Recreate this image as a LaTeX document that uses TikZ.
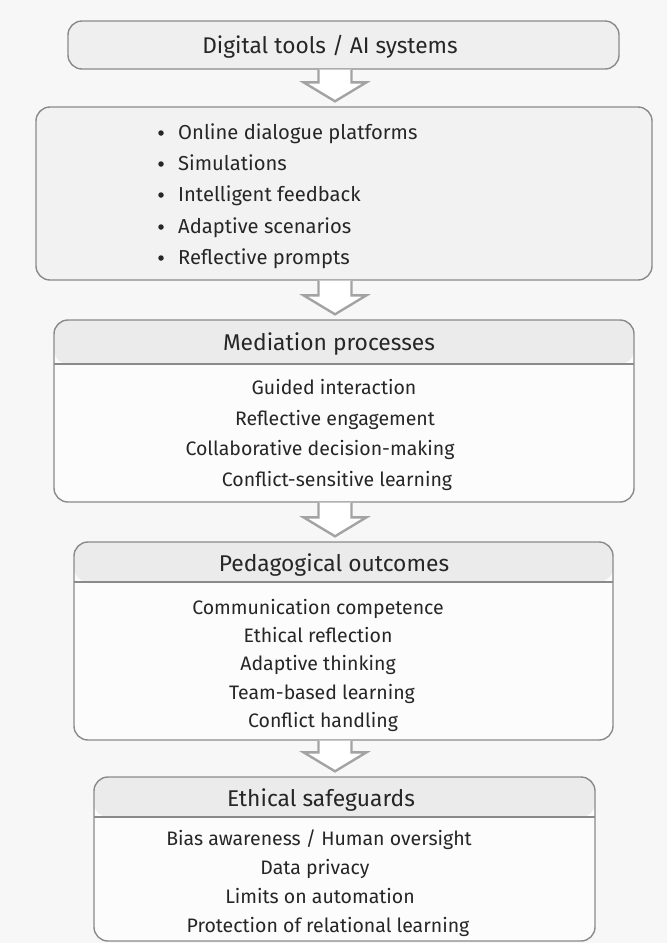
\documentclass[tikz,border=0pt]{standalone}
\usepackage{fontspec}
\setmainfont{Fira Sans}
\usetikzlibrary{calc}
\definecolor{bgc}{HTML}{F7F7F7}
\definecolor{bodyc}{HTML}{FCFCFC}
\definecolor{headc}{HTML}{EBEBEB}
\definecolor{topc}{HTML}{EFEFEF}
\definecolor{listc}{HTML}{F2F2F2}
\definecolor{linec}{HTML}{8A8A8A}
\definecolor{arrc}{HTML}{A3A3A3}
\definecolor{txtc}{HTML}{262626}
\tikzset{
  boxbase/.style={draw=linec, line width=1.4pt, rounded corners=14pt, inner sep=0pt},
  plainbox/.style={boxbase, fill=#1},
  headbox/.style={boxbase, fill=bodyc,
    path picture={
      \fill[headc] (path picture bounding box.north west) rectangle ([yshift=-#1]path picture bounding box.north east);
      \draw[linec, line width=1.4pt] ([yshift=-#1]path picture bounding box.north west) -- ([yshift=-#1]path picture bounding box.north east);
    }},
  blockarrow/.style={draw=arrc, line width=2.4pt, fill=white, line join=miter},
  toptext/.style={font=\fontsize{22.7}{26}\selectfont, text=txtc, inner sep=0pt, anchor=base},
  headtext/.style={font=\fontsize{22.8}{26}\selectfont, text=txtc, inner sep=0pt, anchor=base},
  itemtext/.style={font=\fontsize{19.5}{22}\selectfont, text=txtc, inner sep=0pt, anchor=base},
  listtext/.style={font=\fontsize{20.2}{22}\selectfont, text=txtc, inner sep=0pt, anchor=base west},
  bulletdot/.style={circle, fill=txtc, inner sep=0pt, minimum size=5.5pt},
}
\newcommand{\blockarr}[2]{%
  \draw[blockarrow]
    ($(#1.south -| ax)+(-16.5,0)$) --
    ($(#2.north -| ax)+(-16.5,-24)$) --
    ($(#2.north -| ax)+(-31.5,-24)$) --
    ($(#2.north -| ax)+(0,-5)$) --
    ($(#2.north -| ax)+(31.5,-24)$) --
    ($(#2.north -| ax)+(16.5,-24)$) --
    ($(#1.south -| ax)+(16.5,0)$);}
\begin{document}
\begin{tikzpicture}[x=1pt,y=-1pt]
\fill[bgc] (0,0) rectangle (667,943);
\useasboundingbox (0,0) rectangle (667,943);
\coordinate (ax) at (335,0);

% boxes
\node[plainbox=topc, minimum width=551pt, minimum height=48pt] (b1) at (343.5,45) {};
\node[plainbox=listc, minimum width=616pt, minimum height=173pt] (b2) at (344,193.5) {};
\node[headbox=44pt, minimum width=580pt, minimum height=182pt] (b3) at (344,411) {};
\node[headbox=40pt, minimum width=539pt, minimum height=198pt] (b4) at (343.5,641) {};
\node[headbox=40pt, minimum width=501pt, minimum height=164pt] (b5) at (344.5,859) {};

% arrows
\blockarr{b1}{b2}
\blockarr{b2}{b3}
\blockarr{b3}{b4}
\blockarr{b4}{b5}

% box 1
\node[toptext] (t1) at (330,53) {Digital tools / AI systems};

% box 2
\foreach \y/\t [count=\i] in {132/Online dialogue platforms, 163/Simulations, 194/Intelligent feedback, 226/Adaptive scenarios, 257/Reflective prompts}{
  \node[bulletdot] (bl\i) at (161,\y+1) {};
  \node[listtext] (li\i) at (178,\y+7) {\t};
}

% box 3
\node[headtext] (h3) at (329,350) {Mediation processes};
\node[itemtext] (m1) at (334,394) {Guided interaction};
\node[itemtext] (m2) at (335,425) {Reflective engagement};
\node[itemtext] (m3) at (320,455) {Collaborative decision-making};
\node[itemtext] (m4) at (337,486) {Conflict-sensitive learning};

% box 4
\node[headtext] (h4) at (334,571) {Pedagogical outcomes};
\node[itemtext] (p1) at (318,614) {Communication competence};
\node[itemtext] (p2) at (318,642) {Ethical reflection};
\node[itemtext] (p3) at (318,670) {Adaptive thinking};
\node[itemtext] (p4) at (322,699) {Team-based learning};
\node[itemtext] (p5) at (323,727) {Conflict handling};

% box 5
\node[headtext] (h5) at (321,806) {Ethical safeguards};
\node[itemtext] (s1) at (319,845) {Bias awareness / Human oversight};
\node[itemtext] (s2) at (315,874) {Data privacy};
\node[itemtext] (s3) at (320,903) {Limits on automation};
\node[itemtext] (s4) at (328,932) {Protection of relational learning};
\end{tikzpicture}
\end{document}
